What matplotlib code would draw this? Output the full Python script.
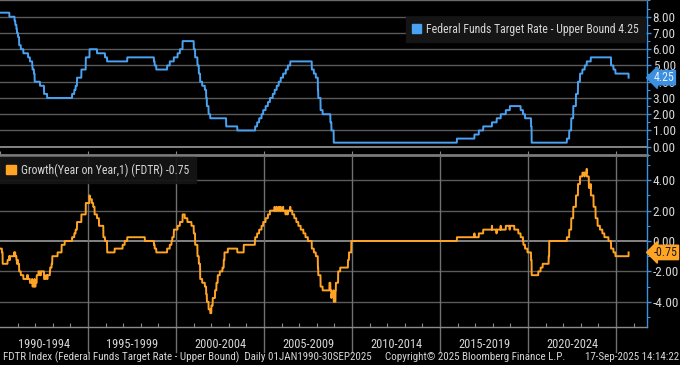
import matplotlib
matplotlib.use("Agg")
import matplotlib.pyplot as plt
import matplotlib.dates as mdates
from matplotlib import font_manager as fm
from matplotlib.patches import Patch
from matplotlib.ticker import MultipleLocator, FormatStrFormatter
import pandas as pd
import numpy as np

# pick a narrow font if one is installed
_names = {f.name for f in fm.fontManager.ttflist}
_choice = None
for _n in ["Liberation Sans Narrow", "Roboto Condensed", "Open Sans Condensed",
           "Arial Narrow", "DejaVu Sans Condensed"]:
    if _n in _names:
        _choice = _n
        break
_cond_dejavu = any(f.name == "DejaVu Sans" and str(f.stretch) not in ("normal", "400", "500")
                   for f in fm.fontManager.ttflist)
if _choice is None:
    _choice = "DejaVu Sans"
    plt.rcParams["font.stretch"] = "condensed"
NARROW = _choice != "DejaVu Sans" or _cond_dejavu
plt.rcParams["font.family"] = [_choice, "DejaVu Sans"]
K = 1.0 if NARROW else 0.8
FS_TICK = 9.5 * K
FS_TAG = 8.6 * K
FS_LEG = 8.5 * K
FS_PER = 8.9 * K
FS_FOOT = 7.9 * K

# ---- Data: Federal Funds Target Rate - Upper Bound (change dates and new levels) ----
change_dates = [
    "1989-01-01", "1989-02-09", "1989-02-24", "1989-06-06", "1989-07-07", "1989-07-27",
    "1989-10-18", "1989-11-06", "1989-12-20",
    "1990-07-13", "1990-10-29", "1990-11-14", "1990-12-07", "1990-12-18",
    "1991-01-09", "1991-02-01", "1991-03-08", "1991-04-30", "1991-08-06", "1991-09-13",
    "1991-10-31", "1991-11-06", "1991-12-06", "1991-12-20",
    "1992-04-09", "1992-07-02", "1992-09-04",
    "1994-02-04", "1994-03-22", "1994-04-18", "1994-05-17", "1994-08-16", "1994-11-15",
    "1995-02-01", "1995-07-06", "1995-12-19", "1996-01-31", "1997-03-25",
    "1998-09-29", "1998-10-15", "1998-11-17",
    "1999-06-30", "1999-08-24", "1999-11-16",
    "2000-02-02", "2000-03-21", "2000-05-16",
    "2001-01-03", "2001-01-31", "2001-03-20", "2001-04-18", "2001-05-15", "2001-06-27",
    "2001-08-21", "2001-09-17", "2001-10-02", "2001-11-06", "2001-12-11",
    "2002-11-06", "2003-06-25",
    "2004-06-30", "2004-08-10", "2004-09-21", "2004-11-10", "2004-12-14",
    "2005-02-02", "2005-03-22", "2005-05-03", "2005-06-30", "2005-08-09", "2005-09-20",
    "2005-11-01", "2005-12-13",
    "2006-01-31", "2006-03-28", "2006-05-10", "2006-06-29",
    "2007-09-18", "2007-10-31", "2007-12-11",
    "2008-01-22", "2008-01-30", "2008-03-18", "2008-04-30", "2008-10-08", "2008-10-29",
    "2008-12-16",
    "2015-12-16", "2016-12-14",
    "2017-03-15", "2017-06-14", "2017-12-13",
    "2018-03-21", "2018-06-13", "2018-09-26", "2018-12-19",
    "2019-07-31", "2019-09-18", "2019-10-30",
    "2020-03-03", "2020-03-15",
    "2022-03-16", "2022-05-04", "2022-06-15", "2022-07-27", "2022-09-21", "2022-11-02",
    "2022-12-14",
    "2023-02-01", "2023-03-22", "2023-05-03", "2023-07-26",
    "2024-09-18", "2024-11-07", "2024-12-18",
    "2025-09-18",
]
rate_values = [
    8.75, 9.00, 9.75, 9.50, 9.25, 9.00,
    8.75, 8.50, 8.25,
    8.00, 7.75, 7.50, 7.25, 7.00,
    6.75, 6.25, 6.00, 5.75, 5.50, 5.25,
    5.00, 4.75, 4.50, 4.00,
    3.75, 3.25, 3.00,
    3.25, 3.50, 3.75, 4.25, 4.75, 5.50,
    6.00, 5.75, 5.50, 5.25, 5.50,
    5.25, 5.00, 4.75,
    5.00, 5.25, 5.50,
    5.75, 6.00, 6.50,
    6.00, 5.50, 5.00, 4.50, 4.00, 3.75,
    3.50, 3.00, 2.50, 2.00, 1.75,
    1.25, 1.00,
    1.25, 1.50, 1.75, 2.00, 2.25,
    2.50, 2.75, 3.00, 3.25, 3.50, 3.75,
    4.00, 4.25,
    4.50, 4.75, 5.00, 5.25,
    4.75, 4.50, 4.25,
    3.50, 3.00, 2.25, 2.00, 1.50, 1.00,
    0.25,
    0.50, 0.75,
    1.00, 1.25, 1.50,
    1.75, 2.00, 2.25, 2.50,
    2.25, 2.00, 1.75,
    1.25, 0.25,
    0.50, 1.00, 1.75, 2.50, 3.25, 4.00,
    4.50,
    4.75, 5.00, 5.25, 5.50,
    5.00, 4.75, 4.50,
    4.25,
]
start_date = "1990-01-01"
end_date = "2025-09-18"
last_rate = 4.25
last_growth = -0.75

period_labels = ["1990-1994", "1995-1999", "2000-2004", "2005-2009",
                 "2010-2014", "2015-2019", "2020-2024"]
period_starts = [1990, 1995, 2000, 2005, 2010, 2015, 2020]

# ---- Build daily series ----
s = pd.Series(rate_values, index=pd.to_datetime(change_dates))
all_days = pd.date_range(change_dates[0], end_date, freq="D")
daily = s.reindex(all_days, method="ffill")
days = pd.date_range(start_date, end_date, freq="D")
rate = daily.reindex(days)
lagged = daily.reindex(days - pd.DateOffset(years=1)).values
growth = rate.values - lagged

# ---- Style ----
BG = "black"
BLUE = "#4aa3f2"
ORANGE = "#ffa424"
GRID = "#5a5a5a"
ZERO = "#9a9a9a"
TXT = "#d6d6d6"
AXBLUE = "#3d8fdf"

fig = plt.figure(figsize=(6.8, 3.65), dpi=100, facecolor=BG)
ax1 = fig.add_axes([0.0, 1 - 155 / 365, 647 / 680, 155 / 365])
ax2 = fig.add_axes([0.0, 1 - 327 / 365, 647 / 680, (327 - 157) / 365])

xmin = pd.Timestamp("1990-01-01")
xmax = pd.Timestamp("2026-10-05")

for ax in (ax1, ax2):
    ax.set_facecolor(BG)
    ax.set_xlim(xmin, xmax)
    ax.spines["left"].set_visible(False)
    ax.spines["right"].set_color(AXBLUE)
    ax.spines["right"].set_linewidth(1.0)
    ax.yaxis.tick_right()
    ax.yaxis.set_major_formatter(FormatStrFormatter("%.2f"))
    ax.tick_params(axis="y", which="major", colors=AXBLUE, labelcolor=TXT,
                   labelsize=FS_TICK, length=3, width=1.0, pad=1, direction="out")
    ax.tick_params(axis="y", which="minor", colors=AXBLUE, length=2, width=0.8,
                   direction="out")
    ax.tick_params(axis="x", which="both", labelbottom=False, direction="in",
                   colors="#8a8a8a", length=3, width=0.8)
    ax.xaxis.set_major_locator(mdates.YearLocator(5))

# top panel
ax1.set_ylim(-0.51, 9.03)
ax1.set_yticks(np.arange(0, 9, 1))
ax1.yaxis.set_minor_locator(MultipleLocator(0.5))
ax1.spines["top"].set_color("#6a6a6a")
ax1.spines["top"].set_linewidth(1.5)
ax1.spines["bottom"].set_color("#7a7a7a")
ax1.spines["bottom"].set_linewidth(2.0)
for v in range(1, 10):
    ax1.axhline(v, color=GRID, lw=1.0, zorder=1)
ax1.axhline(0, color=ZERO, lw=1.2, zorder=1)
ax1.plot(rate.index, rate.values, color=BLUE, lw=1.4, zorder=3)

leg1 = ax1.legend(handles=[Patch(facecolor=BLUE, edgecolor=BLUE)],
                  labels=["Federal Funds Target Rate - Upper Bound 4.25"],
                  loc="upper right", bbox_to_anchor=(0.997, 0.89), borderaxespad=0,
                  fontsize=FS_LEG, frameon=True, facecolor="#151515",
                  edgecolor="#151515", framealpha=1.0, fancybox=False,
                  handlelength=0.8, handleheight=0.8, handletextpad=0.45,
                  borderpad=0.5, labelcolor=TXT)
leg1.set_zorder(5)

ax1.annotate(f"{last_rate:.2f}", xy=(1.0, last_rate), xycoords=ax1.get_yaxis_transform(),
             xytext=(5, 0), textcoords="offset points", ha="left", va="center",
             fontsize=FS_TAG, color="#e8f2ff", annotation_clip=False,
             bbox=dict(boxstyle="larrow,pad=0.06", fc=AXBLUE, ec=AXBLUE), zorder=6)

# bottom panel
ax2.set_ylim(-5.66, 5.53)
ax2.set_yticks([-4, -2, 0, 2, 4])
ax2.yaxis.set_minor_locator(MultipleLocator(1))
ax2.spines["top"].set_visible(False)
ax2.spines["bottom"].set_color("#8a8a8a")
ax2.spines["bottom"].set_linewidth(1.0)
ax2.xaxis.set_minor_locator(mdates.YearLocator(1))
ax2.tick_params(axis="x", which="minor", direction="in", length=3,
                colors="#8a8a8a", width=0.8)
ax2.tick_params(axis="x", which="major", length=0)
for v in [-4, -2, 2, 4]:
    ax2.axhline(v, color=GRID, lw=1.0, zorder=1)
ax2.axhline(0, color=ZERO, lw=1.2, zorder=1)
for y0 in period_starts[1:] + [2025]:
    ax2.axvline(pd.Timestamp(f"{y0}-01-01"), ymin=-0.147, ymax=1.0, color="#707070",
                lw=1.0, clip_on=False, zorder=1)
ax2.plot(days, growth, color=ORANGE, lw=1.4, zorder=3)

for lab, y0 in zip(period_labels, period_starts):
    mid = pd.Timestamp(f"{y0 + 2}-07-02")
    ax2.text(mid, -0.105, lab, transform=ax2.get_xaxis_transform(), ha="center",
             va="center", fontsize=FS_PER, color=TXT, clip_on=False)

leg2 = ax2.legend(handles=[Patch(facecolor=ORANGE, edgecolor=ORANGE)],
                  labels=["Growth(Year on Year,1) (FDTR) -0.75"],
                  loc="upper left", bbox_to_anchor=(0.0, 1.0), borderaxespad=0,
                  fontsize=FS_LEG, frameon=True, facecolor="#151515",
                  edgecolor="#151515", framealpha=0.92, fancybox=False,
                  handlelength=0.8, handleheight=0.8, handletextpad=0.45,
                  borderpad=0.55, labelcolor=TXT)
leg2.set_zorder(5)

ax2.annotate(f"{last_growth:.2f}", xy=(1.0, last_growth), xycoords=ax2.get_yaxis_transform(),
             xytext=(5, 0), textcoords="offset points", ha="left", va="center",
             fontsize=FS_TAG, color="#1a1a1a", annotation_clip=False,
             bbox=dict(boxstyle="larrow,pad=0.06", fc=ORANGE, ec=ORANGE), zorder=6)

# footer
fig.text(0.004, 1 - 357 / 365, "FDTR Index (Federal Funds Target Rate - Upper Bound)  Daily 01JAN1990-30SEP2025",
         ha="left", va="center", fontsize=FS_FOOT, color=TXT)
fig.text(0.699, 1 - 357 / 365, "Copyright\u00a9 2025 Bloomberg Finance L.P.",
         ha="center", va="center", fontsize=FS_FOOT, color=TXT)
fig.text(0.998, 1 - 357 / 365, "17-Sep-2025 14:14:22",
         ha="right", va="center", fontsize=FS_FOOT, color=TXT)

fig.savefig("out.png", dpi=100, facecolor=BG)
